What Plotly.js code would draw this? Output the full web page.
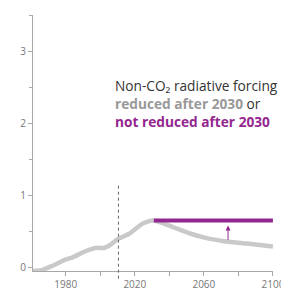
<!DOCTYPE html>
<html>
<head>
<meta charset="utf-8">
<script src="https://cdn.plot.ly/plotly-3.0.1.min.js"></script>
<style>html,body{margin:0;padding:0;background:#fff;}#chart{width:281px;height:294px;}</style>
</head>
<body>
<div id="chart"></div>
<script>
// Non-CO2 radiative forcing reduced after 2030 (grey)
const reducedYears = [1961, 1966, 1970, 1974, 1980, 1984, 1991, 1997, 2002, 2005, 2010, 2017, 2024, 2030, 2034, 2042, 2052, 2061, 2073, 2085, 2100];
const reducedValues = [-0.05, -0.04, 0.0, 0.04, 0.11, 0.14, 0.22, 0.27, 0.27, 0.3, 0.39, 0.47, 0.6, 0.65, 0.63, 0.56, 0.47, 0.41, 0.36, 0.33, 0.29];
// Not reduced after 2030 (purple)
const notReducedYears = [2031, 2100];
const notReducedValues = [0.65, 0.65];
// Arrow from reduced to not reduced
const arrowYear = 2074;
const arrowFrom = 0.36;
const arrowTo = 0.58;
// Present-day marker
const markerYear = 2010.5;
// Ticks
const yTickVals = [0, 1, 2, 3];
const yTickText = ['0', '1', '2', '3'];
const xTickVals = [1980, 2020, 2060, 2100];
const xTickText = ['1980', '2020', '2060', '2100'];

const grey = '#c9c9c9';
const purple = '#93278f';
const axisCol = '#a8a8a8';

const traces = [
  {x: reducedYears, y: reducedValues, type: 'scatter', mode: 'lines',
   line: {color: grey, width: 4.5, shape: 'spline', smoothing: 0.6}, hoverinfo: 'skip'},
  {x: notReducedYears, y: notReducedValues, type: 'scatter', mode: 'lines',
   line: {color: purple, width: 4}, hoverinfo: 'skip'}
];

const layout = {
  width: 281, height: 294,
  margin: {l: 33, r: 8, t: 15, b: 23},
  paper_bgcolor: '#fff', plot_bgcolor: '#fff',
  showlegend: false,
  font: {family: 'Open Sans, sans-serif', color: '#777'},
  xaxis: {range: [1961, 2100.05], showgrid: false, zeroline: false,
          showline: true, linecolor: axisCol, linewidth: 1,
          ticks: 'outside', ticklen: 4, tickcolor: axisCol,
          tickvals: xTickVals, ticktext: xTickText, ticklabeloverflow: 'allow',
          minor: {dtick: 20, tick0: 1980, ticks: 'outside', ticklen: 4, tickcolor: axisCol},
          tickfont: {size: 10, color: '#777'}},
  yaxis: {range: [-0.05, 3.5], showgrid: false, zeroline: false,
          showline: true, linecolor: axisCol, linewidth: 1,
          ticks: 'outside', ticklen: 4, tickcolor: axisCol,
          tickvals: yTickVals, ticktext: yTickText,
          minor: {dtick: 0.5, tick0: 0, ticks: 'outside', ticklen: 3, tickcolor: axisCol},
          tickfont: {size: 10, color: '#777'}},
  shapes: [
    {type: 'line', xref: 'x', yref: 'paper', x0: markerYear, x1: markerYear,
     y0: -0.03, y1: 0.335, line: {color: '#666', width: 1, dash: 'dot'}}
  ],
  annotations: [
    {x: arrowYear, y: arrowTo, ax: arrowYear, ay: arrowFrom, xref: 'x', yref: 'y', axref: 'x', ayref: 'y',
     showarrow: true, arrowhead: 2, arrowsize: 1, arrowwidth: 1, arrowcolor: purple, text: ''},
    {xref: 'paper', yref: 'paper', x: (113-33)/240, y: (271-74)/256, xanchor: 'left', yanchor: 'top',
     align: 'left', showarrow: false,
     text: '<span style="color:#333">Non-CO₂ radiative forcing</span><br>' +
           '<b style="color:#999">reduced after 2030</b><span style="color:#333"> or</span><br>' +
           '<b style="color:' + purple + '">not reduced after 2030</b>',
     font: {family: 'Open Sans, sans-serif', size: 13.7, color: '#333'}}
  ]
};

Plotly.newPlot('chart', traces, layout, {displayModeBar: false, staticPlot: true});
</script>
</body>
</html>
